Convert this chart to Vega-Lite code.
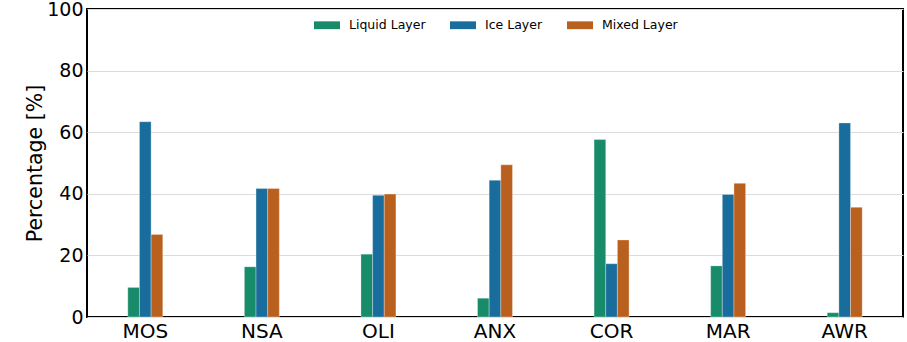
{
  "$schema": "https://vega.github.io/schema/vega-lite/v6.json",
  "width": 816,
  "height": 308,
  "autosize": {"type": "none"},
  "padding": {"left": 87, "top": 9, "right": 4, "bottom": 25},
  "background": "white",
  "data": {
    "values": [
      {"site": "MOS", "layer": "Liquid Layer", "pct": 9.6},
      {"site": "MOS", "layer": "Ice Layer", "pct": 63.4},
      {"site": "MOS", "layer": "Mixed Layer", "pct": 26.8},
      {"site": "NSA", "layer": "Liquid Layer", "pct": 16.3},
      {"site": "NSA", "layer": "Ice Layer", "pct": 41.7},
      {"site": "NSA", "layer": "Mixed Layer", "pct": 41.7},
      {"site": "OLI", "layer": "Liquid Layer", "pct": 20.4},
      {"site": "OLI", "layer": "Ice Layer", "pct": 39.5},
      {"site": "OLI", "layer": "Mixed Layer", "pct": 39.9},
      {"site": "ANX", "layer": "Liquid Layer", "pct": 6.1},
      {"site": "ANX", "layer": "Ice Layer", "pct": 44.4},
      {"site": "ANX", "layer": "Mixed Layer", "pct": 49.4},
      {"site": "COR", "layer": "Liquid Layer", "pct": 57.6},
      {"site": "COR", "layer": "Ice Layer", "pct": 17.3},
      {"site": "COR", "layer": "Mixed Layer", "pct": 25.0},
      {"site": "MAR", "layer": "Liquid Layer", "pct": 16.6},
      {"site": "MAR", "layer": "Ice Layer", "pct": 39.8},
      {"site": "MAR", "layer": "Mixed Layer", "pct": 43.4},
      {"site": "AWR", "layer": "Liquid Layer", "pct": 1.4},
      {"site": "AWR", "layer": "Ice Layer", "pct": 63.0},
      {"site": "AWR", "layer": "Mixed Layer", "pct": 35.6}
    ]
  },
  "mark": {"type": "bar", "stroke": "white", "strokeWidth": 0.5, "strokeOpacity": 0.6},
  "encoding": {
    "x": {
      "field": "site",
      "type": "nominal",
      "sort": ["MOS", "NSA", "OLI", "ANX", "COR", "MAR", "AWR"],
      "scale": {"paddingInner": 0.7, "paddingOuter": 0.35},
      "axis": {
        "title": null,
        "labelAngle": 0,
        "labelFont": "DejaVu Sans",
        "labelFontSize": 20,
        "labelColor": "black",
        "labelPadding": 4,
        "ticks": false,
        "domain": false,
        "grid": false
      }
    },
    "xOffset": {
      "field": "layer",
      "type": "nominal",
      "sort": ["Liquid Layer", "Ice Layer", "Mixed Layer"],
      "scale": {"paddingInner": 0, "paddingOuter": 0}
    },
    "y": {
      "field": "pct",
      "type": "quantitative",
      "scale": {"domain": [0, 100], "nice": false},
      "axis": {
        "title": "Percentage [%]",
        "titleFont": "DejaVu Sans",
        "titleFontSize": 20.5,
        "titleFontWeight": "normal",
        "titleColor": "black",
        "titlePadding": 1,
        "values": [0, 20, 40, 60, 80, 100],
        "labelFont": "DejaVu Sans",
        "labelFontSize": 19,
        "labelColor": "black",
        "labelPadding": 4,
        "ticks": false,
        "domain": false,
        "grid": true,
        "gridColor": "#dcdcdc",
        "gridWidth": 1
      }
    },
    "color": {
      "field": "layer",
      "type": "nominal",
      "sort": ["Liquid Layer", "Ice Layer", "Mixed Layer"],
      "scale": {
        "domain": ["Liquid Layer", "Ice Layer", "Mixed Layer"],
        "range": ["#188b6a", "#196d9c", "#b9601e"]
      },
      "legend": {
        "title": null,
        "orient": "none",
        "direction": "horizontal",
        "legendX": 227,
        "legendY": 3,
        "padding": 0,
        "symbolType": "M-1,-0.3H1V0.3H-1Z",
        "symbolSize": 676,
        "symbolStrokeWidth": 0,
        "symbolOpacity": 1,
        "labelFont": "DejaVu Sans",
        "labelFontSize": 12.5,
        "labelColor": "black",
        "labelOffset": 9,
        "columnPadding": 24
      }
    }
  },
  "config": {
    "view": {"stroke": "black", "strokeWidth": 2}
  }
}
